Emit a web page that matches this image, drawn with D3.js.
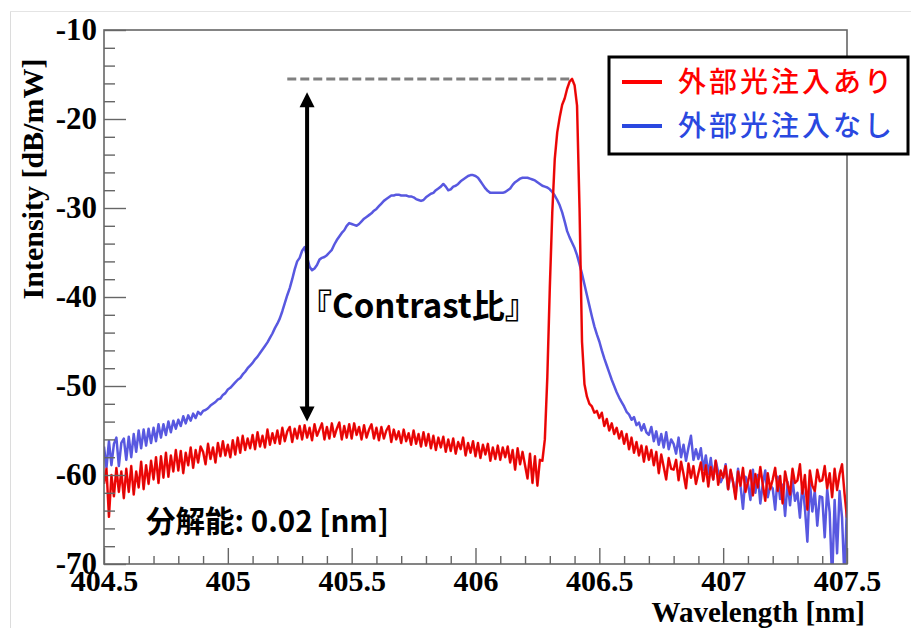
<!DOCTYPE html>
<html>
<head>
<meta charset="utf-8">
<script src="https://cdn.jsdelivr.net/npm/d3@7"></script>
<style>
  html, body { margin: 0; padding: 0; background: #fff; }
  svg { display: block; }
</style>
</head>
<body>
<svg id="chart" width="911" height="628"></svg>
<script>
// ---------------- DATA ----------------
const wavelengthStart = 404.5;   // nm
const wavelengthStep = 0.01;     // nm

// 外部光注入あり (red), dB/mW, one value per 0.01 nm from 404.50 to 407.50
const withInjection = [
  -61.0, -59.3, -64.7, -60.0, -62.4, -59.2, -61.9, -59.6, -62.6, -59.3,
  -61.9, -59.0, -62.2, -59.6, -61.4, -58.5, -61.6, -58.9, -61.0, -58.4,
  -60.5, -58.0, -60.9, -57.9, -60.3, -57.5, -60.2, -57.8, -59.6, -57.2,
  -59.5, -57.3, -59.8, -57.5, -58.9, -56.9, -59.2, -57.2, -58.6, -56.8,
  -57.4, -58.8, -56.5, -58.2, -56.9, -58.6, -56.4, -57.9, -56.2, -57.8,
  -56.6, -58.0, -56.1, -57.7, -55.8, -57.5, -55.6, -57.2, -55.9, -57.0,
  -55.5, -57.1, -55.2, -56.8, -55.6, -56.9, -54.9, -56.6, -55.3, -56.4,
  -55.0, -56.5, -54.7, -56.2, -55.1, -54.6, -56.3, -54.8, -55.9, -54.5,
  -56.0, -54.4, -55.8, -54.7, -56.1, -54.3, -55.6, -54.9, -54.2, -56.0,
  -54.6, -55.9, -54.2, -55.7, -54.8, -54.1, -56.0, -54.5, -55.8, -54.3,
  -55.9, -54.2, -55.5, -54.6, -56.0, -54.4, -55.8, -54.9, -54.3, -55.9,
  -54.7, -56.1, -54.6, -55.9, -55.0, -54.5, -56.3, -54.9, -56.0, -55.1,
  -56.4, -54.9, -56.2, -55.3, -56.6, -55.0, -56.5, -55.4, -56.8, -55.2,
  -56.7, -55.4, -57.0, -55.6, -57.2, -55.8, -56.9, -55.7, -57.4, -56.0,
  -57.3, -55.9, -57.6, -56.3, -57.1, -55.8, -57.8, -56.4, -57.5, -56.2,
  -57.9, -56.4, -58.1, -56.6, -57.7, -56.5, -58.4, -56.9, -58.2, -56.7,
  -58.3, -56.9, -58.0, -56.8, -58.6, -57.2, -59.4, -57.0, -58.8, -57.4,
  -58.9, -60.4, -57.6, -60.9, -57.9, -61.2, -58.3, -58.4, -56.0, -49.0,
  -39.0, -30.5, -24.5, -21.5, -19.8, -18.4, -17.7, -16.6, -15.8, -15.5,
  -16.2, -18.5, -30.0, -45.0, -49.8, -51.2, -52.0, -52.3, -53.0, -52.8,
  -53.6, -53.0, -54.5, -53.7, -55.0, -54.2, -55.4, -54.7, -55.9, -55.1,
  -56.5, -55.4, -57.1, -55.8, -57.5, -56.3, -57.8, -56.7, -58.5, -56.8,
  -58.3, -57.2, -58.9, -57.4, -59.8, -57.7, -59.1, -60.5, -58.1, -59.3,
  -59.4, -58.3, -60.6, -58.5, -59.9, -61.5, -58.7, -60.3, -59.0, -61.0,
  -59.8, -58.6, -60.7, -58.9, -61.3, -59.1, -60.5, -58.4, -61.1, -59.5,
  -60.3, -59.0, -61.6, -59.4, -60.8, -62.7, -59.6, -61.2, -59.2, -61.9,
  -60.8, -59.5, -62.3, -59.9, -61.4, -59.1, -61.1, -62.9, -59.8, -61.6,
  -60.5, -59.2, -61.8, -60.1, -63.2, -59.6, -61.0, -62.2, -59.3, -60.9,
  -60.6, -58.8, -62.1, -60.0, -63.9, -59.5, -61.2, -61.8, -59.4, -60.7,
  -60.6, -59.0, -61.5, -59.8, -62.5, -59.3, -61.7, -59.9, -58.8, -62.1,
  -64.8
];

// 外部光注入なし (blue), dB/mW, one value per 0.01 nm from 404.50 to 407.50
const withoutInjection = [
  -56.8, -59.2, -56.2, -58.9, -56.5, -55.8, -59.0, -56.4, -55.9, -58.3,
  -55.7, -58.0, -55.4, -57.4, -55.0, -57.0, -54.9, -56.7, -54.8, -56.4,
  -54.7, -56.2, -54.3, -55.8, -54.3, -55.5, -54.0, -55.2, -53.9, -54.8,
  -53.8, -54.5, -53.4, -54.2, -53.3, -53.9, -53.1, -53.6, -52.9, -53.2,
  -52.8, -52.7, -52.5, -52.2, -52.0, -51.8, -51.5, -51.4, -51.0, -50.8,
  -50.4, -50.2, -49.9, -49.6, -49.3, -49.1, -48.7, -48.4, -48.0, -47.7,
  -47.4, -47.0, -46.7, -46.3, -45.9, -45.5, -45.1, -44.6, -44.1, -43.5,
  -43.0, -42.4, -41.6, -40.7, -39.8, -39.0, -38.0, -36.9, -36.0, -35.6,
  -34.8, -34.4, -35.5, -36.6, -37.0, -36.8, -36.4, -35.8, -35.6, -35.5,
  -35.3, -35.0, -34.7, -34.1, -33.6, -33.2, -32.8, -32.5, -32.0, -31.7,
  -31.8, -31.9, -32.0, -31.8, -31.5, -31.2, -31.0, -30.8, -30.6, -30.3,
  -30.1, -29.8, -29.5, -29.2, -29.0, -28.8, -28.6, -28.6, -28.5, -28.5,
  -28.6, -28.6, -28.6, -28.7, -28.7, -28.8, -29.0, -29.1, -29.2, -29.1,
  -28.8, -28.6, -28.4, -28.3, -28.0, -27.8, -27.6, -27.3, -27.6, -28.0,
  -27.9, -27.6, -27.5, -27.3, -27.0, -26.8, -26.6, -26.4, -26.3, -26.3,
  -26.4, -26.6, -27.0, -27.4, -27.8, -28.1, -28.3, -28.3, -28.3, -28.3,
  -28.3, -28.3, -28.2, -28.0, -27.8, -27.4, -27.1, -26.9, -26.7, -26.6,
  -26.6, -26.6, -26.7, -26.8, -26.9, -27.1, -27.3, -27.5, -27.6, -27.7,
  -27.9, -28.2, -28.6, -29.1, -29.7, -30.5, -31.5, -32.6, -33.3, -33.9,
  -34.5, -35.3, -36.3, -37.4, -38.6, -39.8, -41.0, -42.2, -43.3, -44.2,
  -45.0, -46.0, -46.9, -47.7, -48.5, -49.3, -50.0, -50.7, -51.3, -51.8,
  -52.3, -52.9, -53.2, -53.8, -53.5, -54.4, -54.1, -55.0, -54.3, -55.2,
  -55.5, -54.6, -56.2, -55.1, -56.6, -55.4, -56.9, -55.2, -57.1, -56.0,
  -56.5, -57.6, -55.8, -58.0, -56.6, -58.4, -56.9, -55.6, -58.3, -57.1,
  -58.2, -57.0, -59.4, -57.8, -59.9, -58.1, -60.5, -58.4, -59.7, -60.8,
  -60.2, -58.8, -61.6, -59.6, -60.8, -62.3, -59.3, -61.2, -63.8, -60.2,
  -60.9, -62.8, -59.4, -62.0, -60.0, -63.2, -61.0, -59.5, -62.5, -61.2,
  -61.5, -63.9, -60.2, -62.7, -61.1, -64.6, -60.8, -63.4, -60.5, -62.9,
  -62.0, -64.8, -61.0, -63.7, -67.5, -60.7, -64.1, -61.8, -65.7, -62.4,
  -62.5, -67.0, -61.6, -64.2, -72.0, -62.8, -68.8, -61.8, -64.8, -72.0,
  -63.0
];

const xTickValues = [404.5, 405, 405.5, 406, 406.5, 407, 407.5];
const xTickLabels = ["404.5", "405", "405.5", "406", "406.5", "407", "407.5"];
const yTickValues = [-70, -60, -50, -40, -30, -20, -10];
const yTickLabels = ["-70", "-60", "-50", "-40", "-30", "-20", "-10"];

const legendLabels = ["外部光注入あり", "外部光注入なし"];
const xTitle = "Wavelength [nm]";
const yTitle = "Intensity [dB/mW]";
const resolutionNote = "分解能: 0.02 [nm]";
const contrastLabel = "『Contrast比』";
// annotation values (data units)
const contrastStartWavelength = 405.24;
const contrastArrowWavelength = 405.32;
const contrastPeakWavelength = 406.385;
const contrastPeakLevel = -15.5;
const contrastArrowTop = -17.0;
const contrastArrowBottom = -54.0;

// ---------------- DRAW ----------------
const svg = d3.select("#chart");
const W = 911, H = 628;
const plot = { left: 104, right: 847, top: 30, bottom: 564 };

const x = d3.scaleLinear().domain([404.5, 407.5]).range([plot.left, plot.right]);
const y = d3.scaleLinear().domain([-70, -10]).range([plot.bottom, plot.top]);

const serif = "'Liberation Serif', 'Times New Roman', serif";
const cjk = "'Noto Sans CJK JP', 'Noto Sans', sans-serif";

// outer light frame
svg.append("line").attr("x1", 10.5).attr("x2", 10.5).attr("y1", 11).attr("y2", H)
  .attr("stroke", "#dcdcdc").attr("stroke-width", 1);
svg.append("line").attr("x1", 10).attr("x2", W).attr("y1", 11.5).attr("y2", 11.5)
  .attr("stroke", "#e4e4e4").attr("stroke-width", 1);

// clip
svg.append("clipPath").attr("id", "clip").append("rect")
  .attr("x", plot.left).attr("y", plot.top)
  .attr("width", plot.right - plot.left).attr("height", plot.bottom - plot.top);

const toPoints = arr => arr.map((v, i) => [wavelengthStart + i * wavelengthStep, v]);
const line = d3.line().x(d => x(d[0])).y(d => y(d[1]));

const g = svg.append("g").attr("clip-path", "url(#clip)");

// blue: without injection
g.append("path").datum(toPoints(withoutInjection))
  .attr("d", line).attr("fill", "none")
  .attr("stroke", "#5858e0").attr("stroke-width", 2.5)
  .attr("stroke-linejoin", "round");

// red: with injection
g.append("path").datum(toPoints(withInjection))
  .attr("d", line).attr("fill", "none")
  .attr("stroke", "#ff0a0a").attr("stroke-width", 2.5)
  .attr("stroke-linejoin", "round");
g.append("path").datum(toPoints(withInjection))
  .attr("d", line).attr("fill", "none")
  .attr("stroke", "#000").attr("stroke-width", 0.5).attr("stroke-opacity", 0.35);

// frame
svg.append("rect")
  .attr("x", plot.left).attr("y", plot.top)
  .attr("width", plot.right - plot.left).attr("height", plot.bottom - plot.top)
  .attr("fill", "none").attr("stroke", "#666").attr("stroke-width", 1.6);

// minor ticks
const yMinor = d3.range(-70, -9.99, 2).filter(v => !yTickValues.includes(v));
const xMinor = d3.range(0, 31).map(i => 404.5 + i * 0.1).filter(v => Math.abs((v * 2) - Math.round(v * 2)) > 1e-6);

svg.append("g").attr("transform", `translate(${plot.left},0)`)
  .call(d3.axisLeft(y).tickValues(yMinor).tickSizeInner(-11).tickSizeOuter(0).tickFormat(""))
  .call(s => s.select(".domain").remove())
  .call(s => s.selectAll("line").attr("stroke", "#666").attr("stroke-width", 1.4));

svg.append("g").attr("transform", `translate(0,${plot.bottom})`)
  .call(d3.axisBottom(x).tickValues(xMinor).tickSizeInner(-8).tickSizeOuter(0).tickFormat(""))
  .call(s => s.select(".domain").remove())
  .call(s => s.selectAll("line").attr("stroke", "#666").attr("stroke-width", 1.4));

// major ticks + labels
svg.append("g").attr("transform", `translate(${plot.left},0)`)
  .call(d3.axisLeft(y).tickValues(yTickValues).tickSizeInner(-22).tickSizeOuter(0).tickPadding(7)
    .tickFormat((d, i) => yTickLabels[i]))
  .call(s => s.select(".domain").remove())
  .call(s => s.selectAll("line").attr("stroke", "#666").attr("stroke-width", 1.4))
  .call(s => s.selectAll("text").attr("font-family", serif).attr("font-weight", "bold")
    .attr("font-size", 31).attr("fill", "#000"));

svg.append("g").attr("transform", `translate(0,${plot.bottom})`)
  .call(d3.axisBottom(x).tickValues(xTickValues).tickSizeInner(-16).tickSizeOuter(0).tickPadding(5)
    .tickFormat((d, i) => xTickLabels[i]))
  .call(s => s.select(".domain").remove())
  .call(s => s.selectAll("line").attr("stroke", "#666").attr("stroke-width", 1.4))
  .call(s => s.selectAll("text").attr("font-family", serif).attr("font-weight", "bold")
    .attr("font-size", 30).attr("fill", "#000").attr("dy", "0.72em"));

// axis titles
svg.append("text").attr("x", 865).attr("y", 621.5).attr("text-anchor", "end")
  .attr("font-family", serif).attr("font-weight", "bold").attr("font-size", 29)
  .text(xTitle);
svg.append("text").attr("transform", `translate(43,${179}) rotate(-90)`)
  .attr("text-anchor", "middle")
  .attr("font-family", serif).attr("font-weight", "bold").attr("font-size", 30)
  .text(yTitle);

// contrast annotation
svg.append("line")
  .attr("x1", x(contrastStartWavelength)).attr("x2", x(contrastPeakWavelength))
  .attr("y1", y(contrastPeakLevel)).attr("y2", y(contrastPeakLevel))
  .attr("stroke", "#808080").attr("stroke-width", 3).attr("stroke-dasharray", "9,4");

const ax = x(contrastArrowWavelength);
const aTop = y(contrastArrowTop), aBot = y(contrastArrowBottom);
svg.append("line").attr("x1", ax).attr("x2", ax).attr("y1", aTop + 12).attr("y2", aBot - 12)
  .attr("stroke", "#000").attr("stroke-width", 4);
svg.append("path").attr("d", `M${ax},${aTop} L${ax - 7.5},${aTop + 15} L${ax + 7.5},${aTop + 15} Z`).attr("fill", "#000");
svg.append("path").attr("d", `M${ax},${aBot} L${ax - 7.5},${aBot - 15} L${ax + 7.5},${aBot - 15} Z`).attr("fill", "#000");

svg.append("text").attr("x", 299).attr("y", 318)
  .attr("font-family", cjk).attr("font-weight", "bold").attr("font-size", 33)
  .text(contrastLabel);

svg.append("text").attr("x", 146).attr("y", 532)
  .attr("font-family", cjk).attr("font-weight", "bold").attr("font-size", 29.5)
  .text(resolutionNote);

// legend
const lg = svg.append("g");
lg.append("rect").attr("x", 609).attr("y", 57).attr("width", 299).attr("height", 97)
  .attr("fill", "#fff").attr("stroke", "#000").attr("stroke-width", 3);
const legendColors = ["#ff0000", "#2a48e0"];
const legendY = [82, 126];
legendLabels.forEach((lab, i) => {
  lg.append("line").attr("x1", 622).attr("x2", 662).attr("y1", legendY[i]).attr("y2", legendY[i])
    .attr("stroke", legendColors[i]).attr("stroke-width", 4);
  lg.append("text").attr("x", 678).attr("y", legendY[i]).attr("dy", "0.36em")
    .attr("font-family", cjk).attr("font-weight", 500).attr("font-size", 28)
    .attr("letter-spacing", 3)
    .attr("fill", legendColors[i]).text(lab);
});
</script>
</body>
</html>
